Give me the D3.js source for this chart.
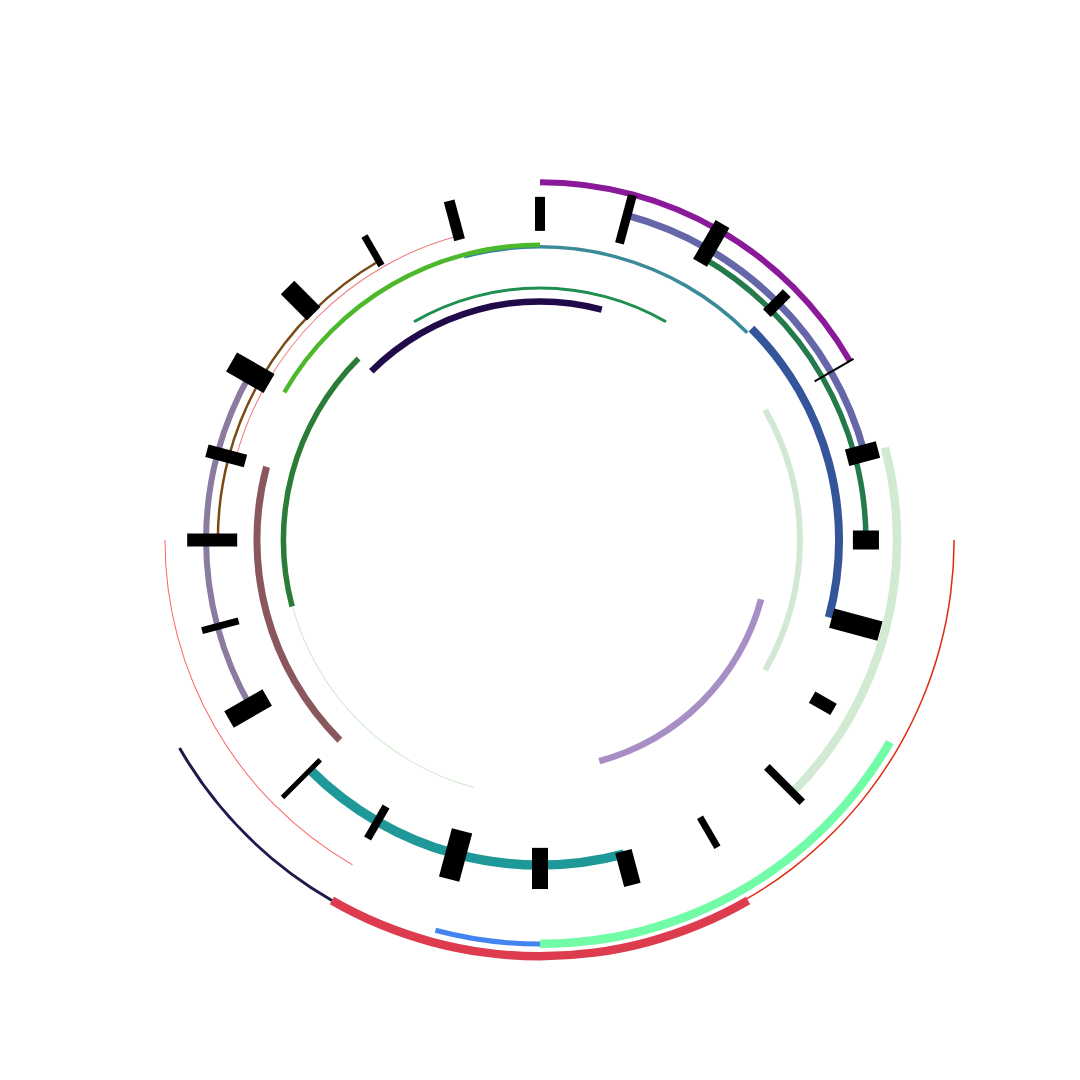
<!DOCTYPE html>
<html>
<head>
<meta charset="utf-8">
<script src="https://cdn.jsdelivr.net/npm/d3@7"></script>
<style>
  html, body { margin: 0; padding: 0; background: #fff; }
  svg { display: block; }
</style>
</head>
<body>
<svg id="chart" width="1080" height="1080"></svg>
<script>
// 24 slots round the circle, slot 0 at the top, clockwise
const slots = [0, 1, 2, 3, 4, 5, 6, 7, 8, 9, 10, 11, 12, 13, 14, 15, 16, 17, 18, 19, 20, 21, 22, 23];

// tick bars, one per slot: low / high on the radial track scale, weight = bar width
const tickLow = [73.6, 73.1, 76.2, 76.4, 75.5, 75.7, 74.5, 71.9, 74.8, 76.4, 76.2, 76.7,
                 73.3, 71.7, 73.3, 74.0, 75.0, 74.3, 72.1, 72.6, 74.5, 76.2, 75.5, 74.0];
const tickHigh = [81.7, 85.0, 86.9, 83.1, 86.2, 83.3, 80.7, 83.8, 80.7, 88.3, 84.5, 85.0,
                  83.1, 83.6, 82.1, 86.7, 85.5, 83.3, 84.0, 82.1, 84.8, 85.0, 83.6, 83.6];
const tickWeight = [10, 9, 16, 11, 2, 17, 19, 20, 13, 8, 7, 17,
                    16, 21, 8, 5, 19, 7, 13, 13, 22, 19, 7, 11];

// arcs: start / end slot, track, weight, colour
const arcStart = [23, 20, 0, 1, 2, 3, 5, 4, 7, 8, 6, 10, 12, 14, 14, 11, 15, 16, 18, 22, 21, 17, 13, 19];
const arcEnd = [27, 24, 4, 5, 6, 7, 9, 8, 11, 12, 10, 14, 13, 16, 18, 15, 19, 20, 22, 26, 25, 21, 17, 23];
const arcTrack = [69.8, 70.3, 85.2, 80.0, 77.6, 71.2, 85.0, 61.9, 54.5, 96.2, 98.6, 99.1,
                  96.2, 99.1, 89.3, 77.4, 67.4, 79.5, 76.7, 60.0, 56.8, 61.1, 61.0, 75.0];
const arcWeight = [3.5, 4.5, 6, 7, 5.5, 8, 8.5, 6, 6.5, 8.5, 1.5, 8.5, 5, 3, 1, 9.5, 7, 6, 2.5, 3, 6.5, 5.5, 1, 1];
const arcColors = ["#3a8a9a", "#4cb82a", "#8b1a9b", "#6567a9", "#247a4a", "#34559a",
                   "#d2e9d2", "#d3e8d3", "#a78fc6", "#72fca8", "#e02a10", "#dd3c4e",
                   "#4184f2", "#1e1a4c", "#ff6464", "#1e9898", "#8a585c", "#8a7ba0",
                   "#7a4a14", "#1f8f50", "#200a4a", "#2a7c36", "#cdeacb", "#f07878"];

const width = 1080, height = 1080;
const cx = 540, cy = 540;

const angle = d3.scaleLinear().domain([0, 24]).range([0, 2 * Math.PI]);
const radius = d3.scaleLinear().domain([0, 100]).range([0, 420]);
const weight = d3.scaleLinear().domain([0, 10]).range([0, 10]);

const svg = d3.select("#chart");
const g = svg.append("g").attr("transform", `translate(${cx},${cy})`);

const arcs = arcStart.map((s, i) => ({
  start: s,
  end: arcEnd[i],
  track: arcTrack[i],
  weight: arcWeight[i],
  color: arcColors[i]
}));

const arcGen = d3.arc()
  .innerRadius((d) => radius(d.track) - weight(d.weight) / 2)
  .outerRadius((d) => radius(d.track) + weight(d.weight) / 2)
  .startAngle((d) => angle(d.start))
  .endAngle((d) => angle(d.end));

g.selectAll("path.band")
  .data(arcs)
  .join("path")
  .attr("class", "band")
  .attr("d", arcGen)
  .attr("fill", (d) => d.color);

// tick bars sit on top of the arcs
const ticks = slots.map((s, i) => ({
  slot: s,
  low: tickLow[i],
  high: tickHigh[i],
  weight: tickWeight[i]
}));

g.selectAll("rect.tick")
  .data(ticks)
  .join("rect")
  .attr("class", "tick")
  .attr("transform", (d) => `rotate(${(angle(d.slot) * 180) / Math.PI})`)
  .attr("x", (d) => -weight(d.weight) / 2)
  .attr("y", (d) => -radius(d.high))
  .attr("width", (d) => weight(d.weight))
  .attr("height", (d) => radius(d.high) - radius(d.low))
  .attr("fill", "#000");
</script>
</body>
</html>
